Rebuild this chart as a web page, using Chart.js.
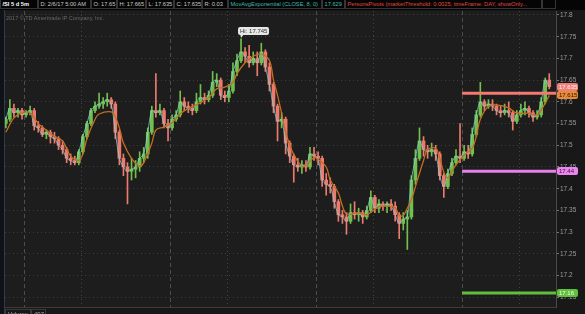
<!DOCTYPE html>
<html>
<head>
<meta charset="utf-8">
<script src="https://cdn.jsdelivr.net/npm/chart.js@4.4.1/dist/chart.umd.min.js"></script>
<style>
  html, body { margin: 0; padding: 0; background: #191919; }
  #wrap { position: relative; width: 585px; height: 314px; overflow: hidden; font-family: "Liberation Sans", Arial, sans-serif; }
  #c { position: absolute; left: 0; top: 0; }
  #hdr { position: absolute; left: 0; top: 0; width: 585px; height: 10px; background: #050505; }
  .b { position: absolute; top: 0; height: 9px; line-height: 9px; font-size: 5.7px; color: #c9c9c9;
       border: 1px solid #353535; border-top: 0; box-sizing: border-box; padding-left: 1.5px; white-space: nowrap; overflow: hidden; }
  #copy { position: absolute; left: 6px; top: 15px; font-size: 5.5px; color: #686868; white-space: nowrap; }
  #vol { position: absolute; left: 5px; top: 309px; height: 5px; }
  .v { position: absolute; top: 0; height: 8px; line-height: 8px; font-size: 6px; color: #aaa; border: 1px solid #3a3a3a; box-sizing: border-box; padding-left: 2px; }
</style>
</head>
<body>
<div id="wrap">
  <canvas id="c" width="585" height="314"></canvas>
  <div id="hdr">
    <span class="b" style="left:0;width:38px;color:#fff;font-weight:bold;">/SI 5 d 5m</span>
    <span class="b" style="left:38px;width:53px;">D: 2/6/17 5:00 AM</span>
    <span class="b" style="left:91px;width:26px;">O: 17.65</span>
    <span class="b" style="left:117px;width:29px;">H: 17.665</span>
    <span class="b" style="left:146px;width:28px;">L: 17.635</span>
    <span class="b" style="left:174px;width:28px;">C: 17.635</span>
    <span class="b" style="left:202px;width:26px;">R: 0.03</span>
    <span class="b" style="left:228px;width:94px;color:#3fb9b0;">MovAvgExponential (CLOSE, 8, 0)</span>
    <span class="b" style="left:322px;width:23px;color:#3fb9b0;">17.629</span>
    <span class="b" style="left:345px;width:197px;color:#e2483f;">PersonsPivots (marketThreshold: 0.0025, timeFrame: DAY, showOnly...</span>
    <span class="b" style="left:542px;width:14px;"></span>
  </div>
  <div id="copy">2017 © TD Ameritrade IP Company, Inc.</div>
  <div id="vol">
    <span class="v" style="left:0;width:26px;">Volume</span>
    <span class="v" style="left:26px;width:15px;">497</span>
  </div>
</div>
<script>
// candles (5 min /SI, grouped), one entry per candle
const opens = [17.550,17.560,17.585,17.575,17.580,17.570,17.575,17.580,17.545,17.540,
  17.525,17.530,17.520,17.515,17.500,17.490,17.470,17.465,17.460,17.485,
  17.520,17.550,17.580,17.590,17.595,17.600,17.605,17.595,17.530,17.470,
  17.450,17.440,17.445,17.450,17.470,17.480,17.530,17.580,17.575,17.580,
  17.550,17.540,17.560,17.570,17.600,17.590,17.585,17.580,17.600,17.610,
  17.605,17.615,17.645,17.650,17.615,17.610,17.625,17.670,17.695,17.715,
  17.705,17.690,17.700,17.690,17.715,17.680,17.640,17.590,17.555,17.560,
  17.505,17.475,17.455,17.450,17.455,17.450,17.480,17.475,17.470,17.420,
  17.410,17.405,17.370,17.340,17.335,17.325,17.345,17.340,17.345,17.335,
  17.350,17.380,17.355,17.365,17.360,17.365,17.360,17.340,17.320,17.330,
  17.335,17.420,17.470,17.510,17.490,17.485,17.490,17.480,17.430,17.405,
  17.435,17.460,17.475,17.470,17.485,17.480,17.525,17.570,17.600,17.590,
  17.595,17.590,17.580,17.575,17.580,17.575,17.555,17.570,17.580,17.585,
  17.575,17.565,17.570,17.600,17.650];
const highs = [17.565,17.605,17.595,17.585,17.585,17.580,17.590,17.585,17.555,17.545,
  17.535,17.535,17.530,17.520,17.510,17.495,17.480,17.475,17.490,17.525,
  17.555,17.585,17.600,17.620,17.610,17.620,17.610,17.600,17.535,17.480,
  17.460,17.470,17.465,17.485,17.495,17.540,17.590,17.665,17.595,17.585,
  17.560,17.570,17.580,17.625,17.610,17.600,17.595,17.620,17.640,17.620,
  17.625,17.670,17.665,17.655,17.625,17.640,17.690,17.710,17.745,17.725,
  17.730,17.715,17.715,17.735,17.720,17.690,17.645,17.595,17.575,17.565,
  17.510,17.480,17.470,17.465,17.465,17.495,17.495,17.485,17.475,17.435,
  17.425,17.410,17.375,17.350,17.345,17.365,17.370,17.355,17.350,17.360,
  17.395,17.385,17.375,17.370,17.370,17.375,17.370,17.345,17.345,17.350,
  17.430,17.490,17.540,17.520,17.500,17.505,17.500,17.485,17.435,17.445,
  17.470,17.490,17.550,17.500,17.500,17.540,17.580,17.645,17.605,17.605,
  17.605,17.595,17.590,17.595,17.600,17.580,17.580,17.595,17.600,17.590,
  17.580,17.580,17.610,17.655,17.665];
const lows = [17.540,17.555,17.565,17.565,17.560,17.565,17.570,17.535,17.530,17.520,
  17.515,17.505,17.505,17.490,17.480,17.460,17.455,17.455,17.455,17.480,
  17.515,17.545,17.575,17.585,17.585,17.590,17.585,17.515,17.455,17.430,
  17.365,17.420,17.425,17.440,17.460,17.470,17.525,17.565,17.570,17.540,
  17.510,17.535,17.555,17.565,17.580,17.575,17.570,17.575,17.595,17.595,
  17.600,17.610,17.635,17.605,17.600,17.600,17.620,17.660,17.690,17.690,
  17.680,17.685,17.660,17.685,17.670,17.625,17.575,17.510,17.540,17.480,
  17.460,17.415,17.440,17.435,17.440,17.445,17.465,17.455,17.405,17.385,
  17.390,17.355,17.325,17.320,17.295,17.320,17.330,17.325,17.320,17.330,
  17.345,17.345,17.345,17.350,17.345,17.350,17.325,17.285,17.305,17.260,
  17.330,17.410,17.465,17.475,17.470,17.475,17.465,17.420,17.380,17.400,
  17.430,17.455,17.460,17.465,17.470,17.475,17.520,17.565,17.580,17.585,
  17.580,17.570,17.565,17.570,17.565,17.535,17.550,17.565,17.570,17.565,
  17.555,17.560,17.565,17.595,17.630];
const closes = [17.560,17.585,17.575,17.580,17.570,17.575,17.580,17.545,17.540,17.525,
  17.530,17.520,17.515,17.500,17.490,17.470,17.465,17.460,17.485,17.520,
  17.550,17.580,17.590,17.595,17.600,17.605,17.595,17.530,17.470,17.450,
  17.440,17.445,17.450,17.470,17.480,17.530,17.580,17.575,17.580,17.550,
  17.540,17.560,17.570,17.600,17.590,17.585,17.580,17.600,17.610,17.605,
  17.615,17.645,17.650,17.615,17.610,17.625,17.670,17.695,17.715,17.705,
  17.690,17.700,17.690,17.715,17.680,17.640,17.590,17.555,17.560,17.505,
  17.475,17.455,17.450,17.455,17.450,17.480,17.475,17.470,17.420,17.410,
  17.405,17.370,17.340,17.335,17.325,17.345,17.340,17.345,17.335,17.350,
  17.380,17.355,17.365,17.360,17.365,17.360,17.340,17.320,17.330,17.335,
  17.420,17.470,17.510,17.490,17.485,17.490,17.480,17.430,17.405,17.435,
  17.460,17.475,17.470,17.485,17.480,17.525,17.570,17.600,17.590,17.595,
  17.590,17.580,17.575,17.580,17.575,17.555,17.570,17.580,17.585,17.575,
  17.565,17.570,17.600,17.650,17.635];

// orange moving average, read at these candle positions
const emaIdx = [0,2,4,6,8,10,12,14,16,18,19,20,22,23,26,27,28,29,31,33,
  34,36,37,39,41,43,45,47,50,52,54,56,57,59,61,63,65,66,67,68,
  69,71,73,74,76,77,79,80,82,83,84,87,89,90,92,94,96,97,98,99,
  100,101,103,104,106,107,108,109,110,111,113,115,116,117,119,121,124,126,129,131,
  133,134];
const emaVals = [17.530,17.563,17.575,17.575,17.550,17.535,17.520,17.510,17.475,17.465,17.480,17.515,17.560,17.572,17.577,17.565,17.540,17.505,17.470,17.452,
  17.460,17.505,17.535,17.542,17.552,17.572,17.585,17.593,17.610,17.630,17.634,17.645,17.665,17.690,17.705,17.710,17.695,17.650,17.615,17.574,
  17.530,17.478,17.452,17.453,17.472,17.468,17.450,17.420,17.390,17.360,17.342,17.344,17.340,17.346,17.358,17.360,17.356,17.338,17.338,17.355,
  17.375,17.405,17.465,17.490,17.493,17.470,17.438,17.425,17.440,17.455,17.477,17.493,17.520,17.560,17.590,17.593,17.586,17.574,17.574,17.570,
  17.597,17.615];

// session separators (candle positions) and price axis
const dayStarts = [4.5, 40.5, 76.5, 112.5];
const midDays = [18.5, 54.5, 90.5, 126.5];
const yTicks = [17.15,17.2,17.25,17.3,17.35,17.4,17.45,17.5,17.55,17.6,17.65,17.7,17.75,17.8];
const pivotVals = [17.62, 17.44, 17.16];

const X_MIN = -0.2, X_MAX = 135.66;
const UP = '#72bf4e', DOWN = '#ec7a6d';
const pivotColors = ['#f27a70', '#e680ec', '#62bf3c'];
const candleColors = closes.map((c, i) => c >= opens[i] ? UP : DOWN);

const bgPlugin = {
  id: 'bg',
  beforeDraw(chart) {
    const { ctx, chartArea: a } = chart;
    ctx.save();
    ctx.fillStyle = '#181818';
    ctx.fillRect(0, 0, chart.width, chart.height);
    ctx.fillStyle = '#1d1d1d';
    ctx.fillRect(a.left, a.top, a.right - a.left, a.bottom - a.top);
    ctx.fillStyle = '#0f1318';
    ctx.fillRect(0, 0, 4, chart.height);
    ctx.fillStyle = '#2f3b47';
    ctx.fillRect(4, 10, 1, chart.height);
    ctx.restore();
  },
  beforeDatasetsDraw(chart) {
    const { ctx, chartArea: a, scales: { x } } = chart;
    ctx.save();
    ctx.lineWidth = 1;
    const vline = (v, dash, col) => {
      const px = Math.round(x.getPixelForValue(v)) + 0.5;
      ctx.strokeStyle = col;
      ctx.setLineDash(dash);
      ctx.beginPath();
      ctx.moveTo(px, a.top);
      ctx.lineTo(px, a.bottom);
      ctx.stroke();
    };
    dayStarts.forEach(v => vline(v, [4, 3], '#4d4d4d'));
    midDays.forEach(v => vline(v, [1, 3], '#444'));
    ctx.restore();
  },
  afterDraw(chart) {
    const { ctx, chartArea: a, scales: { x, y } } = chart;
    ctx.save();
    // bottom separator
    ctx.fillStyle = '#3c3c3c';
    ctx.fillRect(a.left, a.bottom, a.right - a.left, 1);
    // price tags on the axis
    const tag = (v, txt, bg, fg) => {
      const py = y.getPixelForValue(v);
      ctx.fillStyle = bg;
      ctx.beginPath();
      ctx.roundRect(a.right + 1, Math.round(py) - 4, 21, 8, 2);
      ctx.fill();
      ctx.fillStyle = fg;
      ctx.font = '6px "Liberation Sans"';
      ctx.textBaseline = 'middle';
      ctx.textAlign = 'left';
      ctx.fillText(txt, a.right + 3, Math.round(py) + 0.5);
    };
    const last = closes.length - 1;
    tag(closes[last], closes[last].toFixed(3), '#ef8079', '#fff3f0');
    tag(emaVals[emaVals.length - 1], emaVals[emaVals.length - 1].toFixed(3), '#e88a3a', '#2a1500');
    tag(pivotVals[1], String(pivotVals[1]), '#ea86ee', '#3a103c');
    tag(pivotVals[2], String(pivotVals[2]), '#62bf3c', '#f4fff0');
    // high bubble
    const hi = Math.max(...highs);
    const hiI = highs.indexOf(hi);
    const hx = x.getPixelForValue(hiI), hy = y.getPixelForValue(hi);
    ctx.fillStyle = '#e6e6e6';
    ctx.beginPath();
    ctx.roundRect(hx - 3, hy - 12, 31, 8, 2);
    ctx.fill();
    ctx.beginPath();
    ctx.moveTo(hx - 1, hy - 5);
    ctx.lineTo(hx + 3, hy - 5);
    ctx.lineTo(hx, hy - 1);
    ctx.fill();
    ctx.fillStyle = '#333';
    ctx.font = '6px "Liberation Sans"';
    ctx.textBaseline = 'middle';
    ctx.fillText('Hi: ' + hi.toFixed(3), hx - 1, hy - 7.5);
    // corner icon
    ctx.strokeStyle = '#e8e8e8';
    ctx.lineWidth = 1;
    ctx.beginPath();
    ctx.moveTo(560, 2.5); ctx.lineTo(568, 2.5);
    ctx.moveTo(567, 3); ctx.lineTo(561, 8);
    ctx.moveTo(560, 8.5); ctx.lineTo(568, 8.5);
    ctx.stroke();
    ctx.restore();
  }
};

const pivotSets = pivotVals.map((v, k) => ({
  type: 'line',
  data: [{ x: dayStarts[dayStarts.length - 1], y: v }, { x: X_MAX, y: v }],
  borderColor: pivotColors[k],
  borderWidth: 3,
  pointRadius: 0,
  order: 0
}));

new Chart(document.getElementById('c'), {
  type: 'bar',
  data: {
    datasets: [
      ...pivotSets,
      {
        type: 'line',
        data: emaIdx.map((i, k) => ({ x: i, y: emaVals[k] })),
        borderColor: '#c46e20',
        borderWidth: 1.3,
        pointRadius: 0,
        tension: 0.35,
        order: 1
      },
      {
        type: 'line',
        data: closes.map((c, i) => ({ x: i, y: c })),
        borderColor: 'rgba(130,214,220,0.75)',
        borderWidth: 1,
        pointRadius: 0,
        tension: 0.3,
        order: 2
      },
      {
        data: closes.map((c, i) => ({ x: i, y: [opens[i], c] })),
        backgroundColor: candleColors,
        barThickness: 3,
        grouped: false,
        borderWidth: 0,
        order: 3
      },
      {
        data: highs.map((h, i) => ({ x: i, y: [lows[i], h] })),
        backgroundColor: candleColors,
        barThickness: 1,
        grouped: false,
        borderWidth: 0,
        order: 4
      }
    ]
  },
  options: {
    responsive: false,
    animation: false,
    devicePixelRatio: 1,
    layout: { padding: { left: 5, top: 11, right: 0, bottom: 7 } },
    plugins: { legend: { display: false }, tooltip: { enabled: false } },
    scales: {
      x: {
        type: 'linear',
        min: X_MIN,
        max: X_MAX,
        offset: false,
        display: false
      },
      y: {
        position: 'right',
        min: 17.1276,
        max: 17.8092,
        afterBuildTicks(s) { s.ticks = yTicks.map(v => ({ value: v })); },
        afterFit(s) { s.width = 29; },
        ticks: {
          color: '#9c9c9c',
          font: { family: 'Liberation Sans', size: 6.5 },
          padding: 1,
          callback: v => String(+v.toFixed(2))
        },
        grid: { color: '#3d3d3d', tickColor: '#777', tickLength: 3 },
        border: { color: '#4a4a4a', dash: [1, 3] }
      }
    }
  },
  plugins: [bgPlugin]
});
</script>
</body>
</html>
